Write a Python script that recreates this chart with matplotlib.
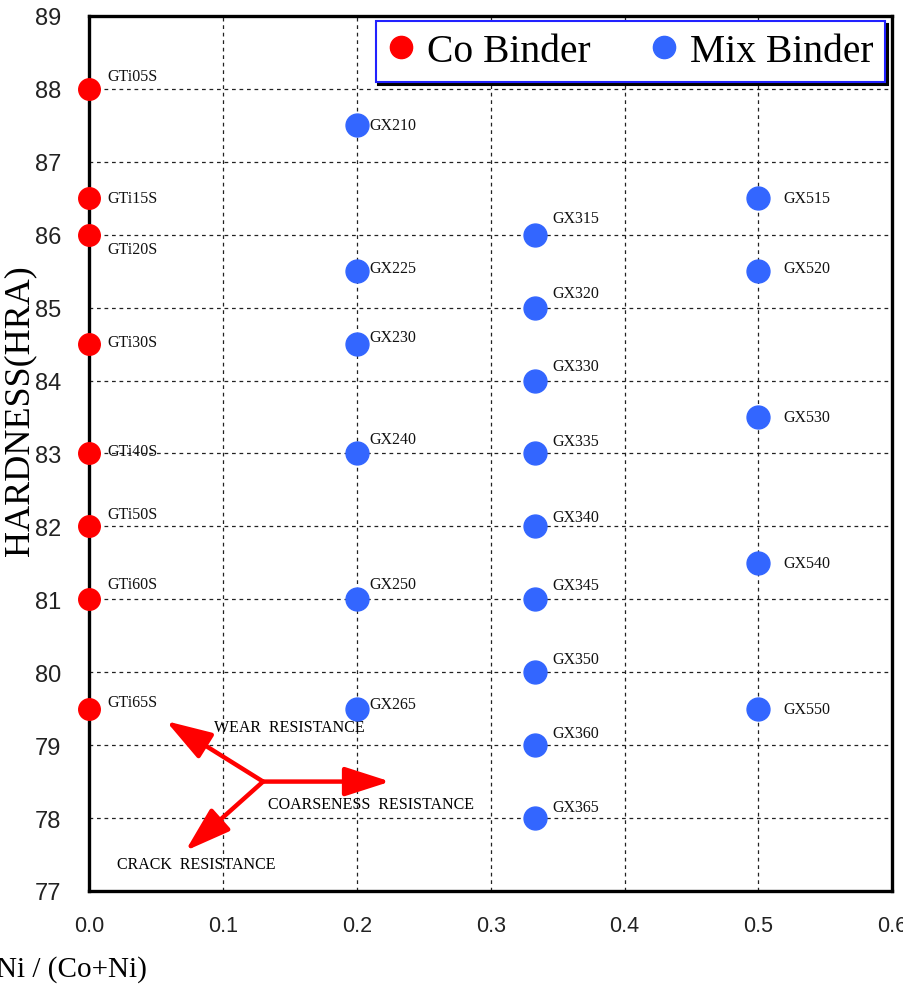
import numpy as np
import matplotlib.pyplot as plt
from matplotlib.lines import Line2D

# Co binder grades (Ni/(Co+Ni) = 0)
co_names = ['GTi05S', 'GTi15S', 'GTi20S', 'GTi30S', 'GTi40S', 'GTi50S', 'GTi60S', 'GTi65S']
co_x = [0.0, 0.0, 0.0, 0.0, 0.0, 0.0, 0.0, 0.0]
co_hra = [88.0, 86.5, 86.0, 84.5, 83.0, 82.0, 81.0, 79.5]

# Mix binder grades
mix_names = ['GX210', 'GX225', 'GX230', 'GX240', 'GX250', 'GX265',
             'GX315', 'GX320', 'GX330', 'GX335', 'GX340', 'GX345', 'GX350', 'GX360', 'GX365',
             'GX515', 'GX520', 'GX530', 'GX540', 'GX550']
mix_x = [0.2] * 6 + [1 / 3] * 9 + [0.5] * 5
mix_hra = [87.5, 85.5, 84.5, 83.0, 81.0, 79.5,
           86.0, 85.0, 84.0, 83.0, 82.0, 81.0, 80.0, 79.0, 78.0,
           86.5, 85.5, 83.5, 81.5, 79.5]

# label offsets in pixels (dx, dy)
co_off = [(18, 13), (18, 0), (18, -14), (18, 2), (18, 2), (18, 12), (18, 15), (18, 7)]
mix_off = [(13, 0), (13, 3), (13, 7), (13, 14), (13, 15), (13, 5),
           (17, 17), (17, 15), (17, 15), (17, 12), (17, 9), (17, 14), (17, 13), (17, 12), (17, 11),
           (25, 0), (25, 3), (25, 0), (25, 0), (25, 0)]

red = '#ff0000'
blue = '#3366ff'
serif = 'Liberation Serif'
sans = 'Liberation Sans'

fig = plt.figure(figsize=(9.04, 9.87), dpi=100)
ax = fig.add_axes([0.0985, 0.0963, 0.8885, 0.8865])

ax.plot(co_x, co_hra, 'o', color=red, ms=15.5, zorder=5, clip_on=False)
ax.plot(mix_x, mix_hra, 'o', color=blue, ms=16.5, zorder=5, clip_on=False)

px = 72 / 100
for n, x, y, (dx, dy) in zip(co_names, co_x, co_hra, co_off):
    ax.annotate(n, (x, y), xytext=(dx * px, dy * px), textcoords='offset points',
                ha='left', va='center', fontsize=11.5, family=serif, color='#111111')
for n, x, y, (dx, dy) in zip(mix_names, mix_x, mix_hra, mix_off):
    ax.annotate(n, (x, y), xytext=(dx * px, dy * px), textcoords='offset points',
                ha='left', va='center', fontsize=11.5, family=serif, color='#111111')

# resistance arrows
center = (0.130, 78.5)
arrow_style = dict(arrowstyle='-|>,head_length=1.4,head_width=0.45', color=red, lw=3.2,
                   mutation_scale=20, shrinkA=0, shrinkB=0)
for tip in [(0.0575, 79.33), (0.225, 78.5), (0.072, 77.55)]:
    ax.annotate('', xy=tip, xytext=center, arrowprops=arrow_style, zorder=6)
ax.text(0.093, 79.25, 'WEAR  RESISTANCE', fontsize=11.5, family=serif, va='center', ha='left')
ax.text(0.134, 78.19, 'COARSENESS  RESISTANCE', fontsize=11.5, family=serif, va='center', ha='left')
ax.text(0.021, 77.37, 'CRACK  RESISTANCE', fontsize=11.5, family=serif, va='center', ha='left')

ax.set_xlim(0, 0.6)
ax.set_ylim(77, 89)
ax.set_xticks(np.arange(0, 0.61, 0.1))
ax.set_yticks(np.arange(77, 90, 1))
ax.set_xticklabels(['0.0', '0.1', '0.2', '0.3', '0.4', '0.5', '0.6'], fontsize=15.5, family=sans, color='#222222')
ax.set_yticklabels([str(v) for v in range(77, 90)], fontsize=17, family=sans, color='#222222')
ax.tick_params(length=0)
ax.tick_params(axis='y', pad=20)
ax.tick_params(axis='x', pad=17)
ax.grid(True, color='#222222', linestyle=(0, (3, 3)), lw=0.9)
ax.set_axisbelow(True)
for s in ax.spines.values():
    s.set_linewidth(2.4)
    s.set_color('black')

handles = [Line2D([], [], marker='o', ls='', color=red, ms=16),
           Line2D([], [], marker='o', ls='', color=blue, ms=16)]
leg = ax.legend(handles, ['Co Binder', 'Mix Binder'], loc='upper right', bbox_to_anchor=(0.991, 0.994),
                ncol=2, fancybox=False, framealpha=1, edgecolor='#2222ff', borderaxespad=0,
                handlelength=0.7, handletextpad=0.3, columnspacing=1.5, borderpad=0.3,
                prop={'family': serif, 'size': 28.5},
                shadow={'color': 'black', 'alpha': 1})
leg.get_frame().set_linewidth(1.5)
leg.set_zorder(10)

fig.text(0.022, 1 - 411 / 987, 'HARDNESS(HRA)', rotation=90, ha='center', va='center',
         fontsize=26, family=serif)
fig.text(-0.004, 1 - 970 / 987, 'Ni / (Co+Ni)', ha='left', va='center', fontsize=21, family=serif)

fig.savefig('out.png', dpi=100)
